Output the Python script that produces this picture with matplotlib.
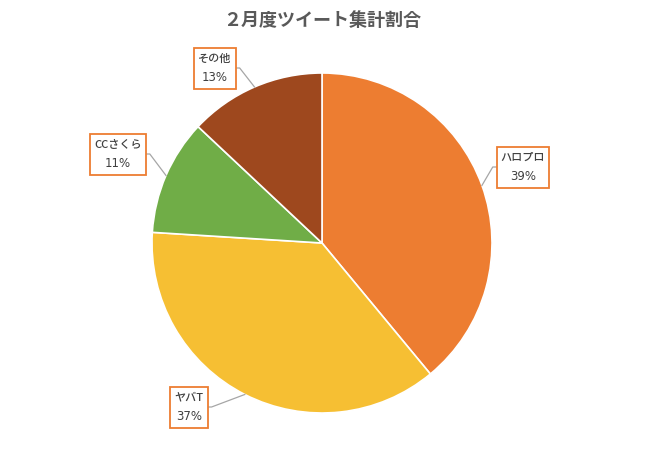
import numpy as np
import matplotlib
matplotlib.use("Agg")
from matplotlib import pyplot as plt
from matplotlib.patches import Rectangle

plt.rcParams['font.family'] = ['Noto Sans CJK JP', 'DejaVu Sans']

# data
labels = ['ハロプロ', 'ヤバT', 'CCさくら', 'その他']
values = [39, 37, 11, 13]
colors = ['#ED7D31', '#F6BF33', '#70AD47', '#9E481E']
title = '２月度ツイート集計割合'

# label box centres (pixels, y from top)
box_pos = [(523, 167), (189, 407), (118, 154), (215, 68)]

W, H = 647, 449
fig = plt.figure(figsize=(W / 100, H / 100), dpi=100)
ax = fig.add_axes([0, 0, 1, 1])
cx, cy, r = 322, H - 243, 170
wedges, _ = ax.pie(values, colors=colors, startangle=90, counterclock=False,
                   center=(cx, cy), radius=r,
                   wedgeprops=dict(edgecolor='white', linewidth=1.2))
ax.set_xlim(0, W)
ax.set_ylim(0, H)
ax.set_aspect('equal')
ax.axis('off')

pairs = []
for lab, v, (bx, by) in zip(labels, values, box_pos):
    yc = H - by
    t1 = ax.text(bx, yc + 9.5, lab, ha='center', va='center', fontsize=8,
                 color='#404040', fontweight=500, zorder=6)
    t2 = ax.text(bx, yc - 9.5, '%d%%' % v, ha='center', va='center',
                 fontsize=8.5, color='#404040', family='DejaVu Sans', zorder=6)
    pairs.append((t1, t2, bx, yc))

fig.canvas.draw()
renderer = fig.canvas.get_renderer()
for w, (t1, t2, bx, yc) in zip(wedges, pairs):
    bw = max(t1.get_window_extent(renderer).width,
             t2.get_window_extent(renderer).width) + 8
    bh = 41
    ax.add_patch(Rectangle((bx - bw / 2, yc - bh / 2), bw, bh, fc='white',
                           ec='#ED7D31', lw=1.3, zorder=5))
    mid = np.deg2rad((w.theta1 + w.theta2) / 2)
    px, py = cx + r * np.cos(mid), cy + r * np.sin(mid)
    if px > bx:
        sx, ex = bx + bw / 2, bx + bw / 2 + 4
    else:
        sx, ex = bx - bw / 2, bx - bw / 2 - 4
    ax.plot([sx, ex, px], [yc, yc, py], color='#A6A6A6', lw=0.9, zorder=4)

fig.text(cx / W, 1 - 20 / H, title, ha='center', va='center',
         fontsize=13, fontweight='bold', color='#595959')

fig.savefig('out.png', dpi=100)
